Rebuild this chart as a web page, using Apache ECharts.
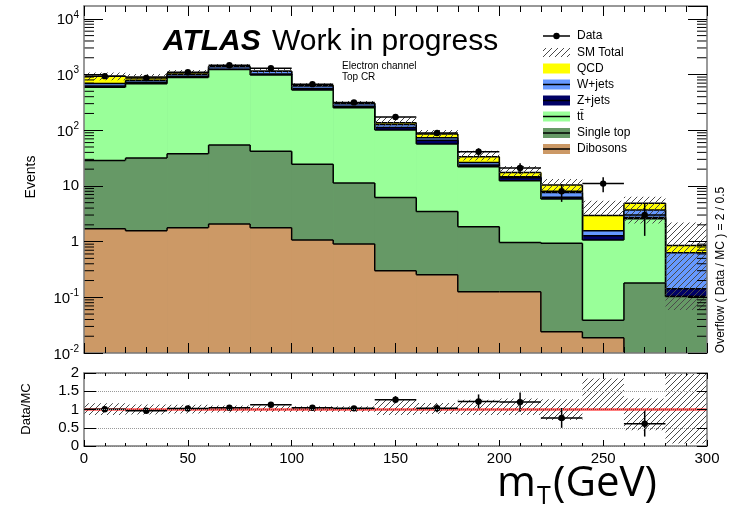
<!DOCTYPE html>
<html>
<head>
<meta charset="utf-8">
<script src="https://cdn.jsdelivr.net/npm/echarts@6/dist/echarts.min.js"></script>
<style>
  html, body { margin: 0; padding: 0; background: #ffffff; }
  #chart { width: 731px; height: 507px; }
</style>
</head>
<body>
<div id="chart"></div>
<script>
// m_T distribution, electron channel, top control region (20 GeV bins)
const binLow = [0, 20, 40, 60, 80, 100, 120, 140, 160, 180, 200, 220, 240, 260, 280];
const binWidth = 20;

// Expected events per process
const dibosons  = [1.70, 1.56, 1.78, 2.08, 1.78, 1.07, 0.91, 0.30, 0.255, 0.126, 0.126, 0.024, 0.0187, 0, 0];
const singleTop = [27, 30, 36, 52, 40, 23.4, 10.4, 5.9, 3.2, 1.73, 0.84, 0.906, 0.020, 0.18, 0.103];
const ttbar     = [560, 648, 847, 1171, 943, 505, 241, 95, 53.3, 20.3, 11.4, 4.91, 1.03, 2.38, 0];
const zJets     = [31, 45, 30, 25, 40, 31, 16, 11, 9.1, 1.6, 1.6, 0.4, 0.21, 0.14, 0.04];
const wJets     = [70, 62, 75, 130, 115, 65, 32, 14, 7.7, 2.7, 0.7, 1.36, 0.29, 1.0, 0.49];
const qcd       = [240, 113, 75, 15, 10, 15, 6, 10, 12.4, 7.1, 2.8, 2.8, 1.36, 1.2, 0.215];

// Observed events (no entry in the last bin)
const dataCounts = [935, 868, 1097, 1465, 1300, 672, 316, 173, 89, 41, 21, 8, 11, 3, null];

// Relative systematic uncertainty on the SM total (up / down)
const mcErrUp   = [0.17, 0.14, 0.13, 0.11, 0.11, 0.09, 0.09, 0.27, 0.18, 0.27, 0.30, 0.28, 0.85, 0.30, 1.60];
const mcErrDown = [0.15, 0.14, 0.11, 0.08, 0.07, 0.07, 0.07, 0.15, 0.12, 0.15, 0.15, 0.29, 0.00, 0.57, 0.93];

// Axis labels
const xTickLabels = ['0', '50', '100', '150', '200', '250', '300'];
const ratioTickLabels = ['0', '0.5', '1', '1.5', '2'];
const legendNames = ['Data', 'SM Total', 'QCD', 'W+jets', 'Z+jets', 't\u0074\u0304', 'Single top', 'Dibosons'];

const FONT = '"Liberation Sans", Arial, Helvetica, sans-serif';
const yMin = 0.01, yMax = 1.7e4;

const processes = [
  { name: 'Dibosons',   values: dibosons,  color: '#cc9966' },
  { name: 'Single top', values: singleTop, color: '#669966' },
  { name: 't\u0074\u0304', values: ttbar,  color: '#99ff99' },
  { name: 'Z+jets',     values: zJets,     color: '#000066' },
  { name: 'W+jets',     values: wJets,     color: '#6699ff' },
  { name: 'QCD',        values: qcd,       color: '#ffff00' }
];

// cumulative stack heights, bottom process first
let running = binLow.map(() => 0);
const cumulative = processes.map(p => {
  running = running.map((r, i) => r + p.values[i]);
  return running.slice();
});
const mcTotal = running.slice();

// diagonal hatch pattern used for the uncertainty bands
function makeHatch() {
  const s = 6;
  const c = document.createElement('canvas');
  c.width = s; c.height = s;
  const g = c.getContext('2d');
  g.strokeStyle = '#4a4a4a';
  g.lineWidth = 1;
  g.beginPath();
  g.moveTo(0, s); g.lineTo(s, 0);
  g.moveTo(-2, 2); g.lineTo(2, -2);
  g.moveTo(s - 2, s + 2); g.lineTo(s + 2, s - 2);
  g.stroke();
  return c;
}
const hatchFill = { image: makeHatch(), repeat: 'repeat' };

function clampY(cs, y) {
  return Math.max(cs.y, Math.min(cs.y + cs.height, y));
}
function logY(api, cs, v) {
  if (!(v > 0)) return cs.y + cs.height;
  return clampY(cs, api.coord([0, v])[1]);
}
function linY(api, cs, v) {
  return clampY(cs, api.coord([0, v])[1]);
}

// stacked histogram: each process filled from the axis floor up to its cumulative height
function stackSeries(proc, k) {
  const tops = cumulative[k];
  return {
    type: 'custom',
    name: proc.name,
    xAxisIndex: 0, yAxisIndex: 0,
    z: 2,
    encode: { x: 0, y: 2 },
    data: binLow.map((lo, i) => [lo, lo + binWidth, tops[i], i > 0 ? tops[i - 1] : -1]),
    renderItem: (params, api) => {
      const cs = params.coordSys;
      const lo = api.value(0), hi = api.value(1), top = api.value(2), prev = api.value(3);
      const x0 = api.coord([lo, 1])[0], x1 = api.coord([hi, 1])[0];
      const yb = cs.y + cs.height, yt = logY(api, cs, top);
      const line = { stroke: '#000000', lineWidth: 1.5 };
      const children = [];
      if (yb - yt > 0) {
        // slight overlap avoids hairline seams between neighbouring bins
        const w = (x1 - x0) + (hi < 300 ? 0.7 : 0);
        children.push({ type: 'rect', shape: { x: x0, y: yt, width: w, height: yb - yt }, style: { fill: proc.color } });
      }
      if (yt < yb) {
        children.push({ type: 'line', shape: { x1: x0, y1: yt, x2: x1, y2: yt }, style: line });
      }
      if (prev >= 0) {
        const yp = logY(api, cs, prev);
        children.push({ type: 'line', shape: { x1: x0, y1: yp, x2: x0, y2: yt }, style: line });
      }
      return { type: 'group', children };
    }
  };
}

const stacks = [];
for (let k = processes.length - 1; k >= 0; k--) stacks.push(stackSeries(processes[k], k));

// SM total uncertainty band
const totalBand = {
  type: 'custom',
  name: 'SM Total',
  xAxisIndex: 0, yAxisIndex: 0,
  z: 3,
  encode: { x: 0, y: 3 },
  data: binLow.map((lo, i) => [lo, lo + binWidth, mcTotal[i] * (1 - mcErrDown[i]), mcTotal[i] * (1 + mcErrUp[i])]),
  renderItem: (params, api) => {
    const cs = params.coordSys;
    const x0 = api.coord([api.value(0), 1])[0], x1 = api.coord([api.value(1), 1])[0];
    const yb = logY(api, cs, api.value(2)), yt = logY(api, cs, api.value(3));
    return { type: 'rect', shape: { x: x0, y: yt, width: x1 - x0, height: yb - yt }, style: { fill: hatchFill } };
  }
};

// data points with Poisson error bars
const dataItems = [];
binLow.forEach((lo, i) => {
  const n = dataCounts[i];
  if (n == null) return;
  const e = Math.sqrt(n);
  dataItems.push([lo, lo + binWidth, n, n - e, n + e]);
});
function pointRender(logScale) {
  return (params, api) => {
    const cs = params.coordSys;
    const lo = api.value(0), hi = api.value(1), v = api.value(2);
    if (!logScale && v > 2) return null;
    const toY = logScale ? (x) => logY(api, cs, x) : (x) => linY(api, cs, x);
    const x0 = api.coord([lo, 1])[0], x1 = api.coord([hi, 1])[0];
    const xc = (x0 + x1) / 2;
    const y = toY(v), ylo = toY(api.value(3)), yhi = toY(api.value(4));
    const st = { stroke: '#000000', lineWidth: 1.5 };
    return {
      type: 'group',
      children: [
        { type: 'line', shape: { x1: x0, y1: y, x2: x1, y2: y }, style: st },
        { type: 'line', shape: { x1: xc, y1: ylo, x2: xc, y2: yhi }, style: st },
        { type: 'circle', shape: { cx: xc, cy: y, r: 3.2 }, style: { fill: '#000000' } }
      ]
    };
  };
}
const dataSeries = {
  type: 'custom',
  name: 'Data',
  xAxisIndex: 0, yAxisIndex: 0,
  z: 4,
  encode: { x: 0, y: 2 },
  data: dataItems,
  renderItem: pointRender(true)
};

// minor ticks of the logarithmic axis (2..9 within each decade), both frame sides
const minorLogTicks = [];
for (let d = -2; d <= 4; d++) {
  for (let m = 2; m <= 9; m++) {
    const v = m * Math.pow(10, d);
    if (v < yMax) minorLogTicks.push([0, v]);
  }
}
const logMinorSeries = {
  type: 'custom',
  xAxisIndex: 0, yAxisIndex: 0,
  z: 5,
  silent: true,
  encode: { x: 0, y: 1 },
  data: minorLogTicks,
  renderItem: (params, api) => {
    const cs = params.coordSys;
    const y = api.coord([0, api.value(1)])[1];
    const st = { stroke: '#000000', lineWidth: 1 };
    return {
      type: 'group',
      children: [
        { type: 'line', shape: { x1: cs.x, y1: y, x2: cs.x + 10, y2: y }, style: st },
        { type: 'line', shape: { x1: cs.x + cs.width - 10, y1: y, x2: cs.x + cs.width, y2: y }, style: st }
      ]
    };
  }
};

// ratio panel
const ratioBand = {
  type: 'custom',
  xAxisIndex: 2, yAxisIndex: 2,
  z: 2,
  encode: { x: 0, y: 3 },
  data: binLow.map((lo, i) => [lo, lo + binWidth, 1 - mcErrDown[i], 1 + mcErrUp[i]]),
  renderItem: (params, api) => {
    const cs = params.coordSys;
    const x0 = api.coord([api.value(0), 1])[0], x1 = api.coord([api.value(1), 1])[0];
    const yb = linY(api, cs, api.value(2)), yt = linY(api, cs, api.value(3));
    return { type: 'rect', shape: { x: x0, y: yt, width: x1 - x0, height: yb - yt }, style: { fill: hatchFill } };
  }
};
const unityLine = {
  type: 'custom',
  xAxisIndex: 2, yAxisIndex: 2,
  z: 3,
  silent: true,
  encode: { x: 0, y: 1 },
  data: [[0, 1]],
  renderItem: (params, api) => {
    const cs = params.coordSys;
    const y = api.coord([0, 1])[1];
    return { type: 'line', shape: { x1: cs.x, y1: y, x2: cs.x + cs.width, y2: y }, style: { stroke: '#ff0000', lineWidth: 2 } };
  }
};
const ratioItems = [];
binLow.forEach((lo, i) => {
  const n = dataCounts[i];
  if (n == null) return;
  const r = n / mcTotal[i];
  const e = Math.sqrt(n) / mcTotal[i];
  ratioItems.push([lo, lo + binWidth, r, r - e, r + e]);
});
const ratioPoints = {
  type: 'custom',
  xAxisIndex: 2, yAxisIndex: 2,
  z: 4,
  encode: { x: 0, y: 2 },
  data: ratioItems,
  renderItem: pointRender(false)
};

function powerLabel(v) {
  const e = Math.log10(v);
  const n = Math.round(e);
  if (Math.abs(e - n) > 1e-6) return '';
  if (n === 0) return '1';
  if (n === 1) return '10';
  return '{b|10}{s|' + n + '}';
}

// frame drawn by the axis lines, above the filled histograms
const frameLine = { show: true, onZero: false, lineStyle: { color: '#777777', width: 1.5 } };
const tickStyle = { color: '#000000', width: 1 };
const xCommon = {
  type: 'value', min: 0, max: 300, interval: 50, z: 6,
  axisLine: frameLine, splitLine: { show: false }
};

const option = {
  animation: false,
  backgroundColor: '#ffffff',
  grid: [
    { left: 84, top: 6, width: 623, height: 347 },
    { left: 84, top: 373, width: 623, height: 73 }
  ],
  xAxis: [
    Object.assign({}, xCommon, {
      gridIndex: 0, position: 'bottom', axisLabel: { show: false },
      axisTick: { inside: true, length: 10, lineStyle: tickStyle },
      minorTick: { show: true, splitNumber: 5, length: 6, lineStyle: tickStyle }
    }),
    Object.assign({}, xCommon, {
      gridIndex: 0, position: 'top', axisLabel: { show: false },
      axisTick: { inside: true, length: 10, lineStyle: tickStyle },
      minorTick: { show: true, splitNumber: 5, length: 6, lineStyle: tickStyle }
    }),
    Object.assign({}, xCommon, {
      gridIndex: 1, position: 'bottom',
      axisLabel: {
        show: true, margin: 5, fontSize: 15, fontFamily: FONT, color: '#000',
        formatter: v => xTickLabels[Math.round(v / 50)]
      },
      axisTick: { inside: true, length: 6, lineStyle: tickStyle },
      minorTick: { show: true, splitNumber: 5, length: 3, lineStyle: tickStyle }
    }),
    Object.assign({}, xCommon, {
      gridIndex: 1, position: 'top', axisLabel: { show: false },
      axisTick: { inside: true, length: 6, lineStyle: tickStyle },
      minorTick: { show: true, splitNumber: 5, length: 3, lineStyle: tickStyle }
    })
  ],
  yAxis: [
    {
      gridIndex: 0, type: 'log', logBase: 10, min: yMin, max: yMax, position: 'left', z: 6,
      axisLine: frameLine, splitLine: { show: false },
      axisTick: { inside: true, length: 19, lineStyle: tickStyle },
      axisLabel: {
        margin: 5, fontSize: 15, fontFamily: FONT, color: '#000',
        showMaxLabel: false,
        formatter: powerLabel,
        rich: {
          b: { fontSize: 15, fontFamily: FONT, color: '#000', verticalAlign: 'bottom' },
          s: { fontSize: 10, fontFamily: FONT, color: '#000', verticalAlign: 'bottom', padding: [0, 0, 8, 0] }
        }
      }
    },
    {
      gridIndex: 0, type: 'log', logBase: 10, min: yMin, max: yMax, position: 'right', z: 6,
      axisLine: frameLine, splitLine: { show: false }, axisLabel: { show: false },
      axisTick: { inside: true, length: 19, lineStyle: tickStyle }
    },
    {
      gridIndex: 1, type: 'value', min: 0, max: 2, interval: 0.5, position: 'left', z: 6,
      axisLine: frameLine,
      splitLine: { show: true, lineStyle: { type: 'dotted', color: '#999999', width: 1 } },
      axisTick: { inside: true, length: 12, lineStyle: tickStyle },
      axisLabel: {
        margin: 5, fontSize: 15, fontFamily: FONT, color: '#000',
        formatter: v => ratioTickLabels[Math.round(v / 0.5)]
      }
    },
    {
      gridIndex: 1, type: 'value', min: 0, max: 2, interval: 0.5, position: 'right', z: 6,
      axisLine: frameLine, splitLine: { show: false }, axisLabel: { show: false },
      axisTick: { inside: true, length: 10, lineStyle: tickStyle }
    }
  ],
  series: stacks.concat([totalBand, dataSeries, logMinorSeries, ratioBand, unityLine, ratioPoints]),
  graphic: { elements: [] }
};

// text annotations
const G = option.graphic.elements;
function txt(x, y, text, font, extra) {
  const el = {
    type: 'text', x: x, y: y, z: 100,
    style: Object.assign({ text: text, font: font, fill: '#000', align: 'left', verticalAlign: 'middle',
                           textAlign: 'left', textVerticalAlign: 'middle' }, extra || {})
  };
  G.push(el);
  return el;
}
txt(163, 42, 'ATLAS', 'italic bold 30px ' + FONT);
txt(272, 42, 'Work in progress', '30px ' + FONT);
txt(342, 66, 'Electron channel', '10px ' + FONT);
txt(342, 77, 'Top CR', '10px ' + FONT);

const ev = txt(31, 177, 'Events', '14px ' + FONT, { align: 'center', textAlign: 'center' });
ev.rotation = Math.PI / 2;
const dm = txt(26, 409, 'Data/MC', '13px ' + FONT, { align: 'center', textAlign: 'center' });
dm.rotation = Math.PI / 2;
const of = txt(721, 270, 'Overflow ( Data / MC ) = 2 / 0.5', '12px ' + FONT, { align: 'center', textAlign: 'center' });
of.rotation = Math.PI / 2;

// axis title m_T(GeV)
const TITLE_FONT = '"Open Sans", "DejaVu Sans", sans-serif';
txt(497, 484, 'm', '42px ' + TITLE_FONT);
txt(537, 497, 'T', '25px ' + TITLE_FONT);
txt(553, 484, '(GeV)', '42px ' + TITLE_FONT);

// legend
const legendRows = [36, 52.5, 68.5, 84.5, 100.5, 116.5, 133, 149];
const lx0 = 543, lx1 = 570, ltext = 577;
legendNames.forEach((name, i) => {
  txt(ltext, legendRows[i], name, '12px ' + FONT);
});
// Data marker
G.push({ type: 'line', z: 100, shape: { x1: lx0, y1: legendRows[0], x2: lx1, y2: legendRows[0] }, style: { stroke: '#000', lineWidth: 1.5 } });
G.push({ type: 'circle', z: 101, shape: { cx: (lx0 + lx1) / 2, cy: legendRows[0], r: 3.2 }, style: { fill: '#000' } });
// SM total hatch swatch
G.push({ type: 'rect', z: 100, shape: { x: lx0, y: legendRows[1] - 4.5, width: lx1 - lx0, height: 9 }, style: { fill: hatchFill } });
// process swatches, in legend order
const legendProcs = [processes[5], processes[4], processes[3], processes[2], processes[1], processes[0]];
legendProcs.forEach((p, j) => {
  const y = legendRows[j + 2];
  G.push({ type: 'rect', z: 100, shape: { x: lx0, y: y - 5, width: lx1 - lx0, height: 10 }, style: { fill: p.color } });
  if (p.name !== 'QCD') {
    G.push({ type: 'line', z: 101, shape: { x1: lx0, y1: y, x2: lx1, y2: y }, style: { stroke: '#000', lineWidth: 1.5 } });
  }
});

const chart = echarts.init(document.getElementById('chart'), null, { renderer: 'canvas' });
chart.setOption(option);
</script>
</body>
</html>
